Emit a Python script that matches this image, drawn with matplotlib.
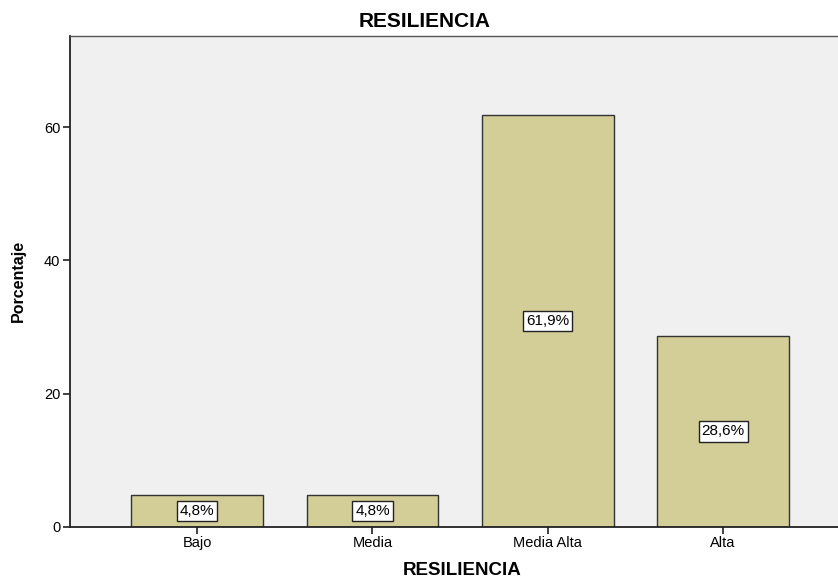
import matplotlib
matplotlib.use("Agg")
import matplotlib.pyplot as plt

plt.rcParams["font.family"] = ["Liberation Sans", "DejaVu Sans"]

categories = ["Bajo", "Media", "Media Alta", "Alta"]
values = [4.8, 4.8, 61.9, 28.6]
labels = ["4,8%", "4,8%", "61,9%", "28,6%"]
yticks = [0, 20, 40, 60]

fig = plt.figure(figsize=(8.38, 5.78), dpi=100)
ax = fig.add_axes([70/838, 1-526.7/578, 1-70/838, (526.7-36)/578])
ax.set_facecolor("#F0F0F0")
x = list(range(len(categories)))
ax.bar(x, values, width=0.75, color="#D3CE97", edgecolor="#333333", linewidth=1.0, zorder=2)
for xi, v, lab in zip(x, values, labels):
    ax.text(xi, v/2, lab, ha="center", va="center", fontsize=11, zorder=3,
            bbox=dict(boxstyle="square,pad=0.2", facecolor="white", edgecolor="#222222", linewidth=1.0))
ax.set_xlim(-0.725, 3.655)
ax.set_ylim(0, 73.7)
ax.set_xticks(x)
ax.set_xticklabels(categories, fontsize=10.5)
ax.set_yticks(yticks)
ax.set_yticklabels([str(t) for t in yticks], fontsize=10.5)
ax.tick_params(axis="both", direction="out", length=5, width=1.2, color="#222222", pad=2)
for s in ["left", "bottom", "top"]:
    ax.spines[s].set_color("#222222")
ax.spines["left"].set_linewidth(1.3)
ax.spines["bottom"].set_linewidth(1.3)
ax.spines["top"].set_linewidth(1.0)
ax.spines["top"].set_color("#555555")
ax.spines["right"].set_visible(False)
fig.text(425/838, 1-27/578, "RESILIENCIA", fontsize=15, fontweight="bold",
         ha="center", va="baseline")
ax.set_xlabel("RESILIENCIA", fontsize=13.5, fontweight="bold")
ax.set_ylabel("Porcentaje", fontsize=11.5, fontweight="bold")
ax.xaxis.set_label_coords((462-70)/768, -0.072)
ax.yaxis.set_label_coords(-0.058, 0.5)
fig.savefig("out.png", dpi=100)
